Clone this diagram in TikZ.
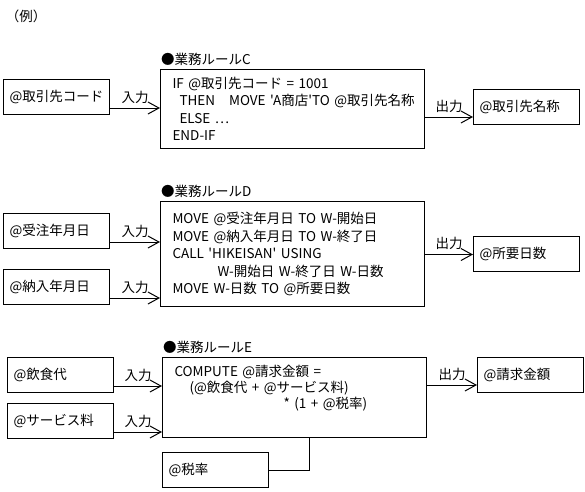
\documentclass[tikz,border=0pt]{standalone}
\usepackage{fontspec}
\setmainfont{Noto Sans CJK JP}[Ligatures=TeXOff]
\usetikzlibrary{arrows.meta, positioning}
\colorlet{colLinea}{black}
\colorlet{colTexto}{black}
\tikzset{
  cajaBase/.style={
    draw=colLinea, line width=1pt, anchor=north west,
    text=colTexto, font=\fontsize{13.5}{17.5}\selectfont
  },
  cajaDato/.style={cajaBase, minimum width=106pt, minimum height=35pt,
    text width=94pt, inner xsep=6pt, align=left},
  cajaRegla/.style={cajaBase, text width=240pt, inner xsep=12pt, align=left},
  flechaDato/.style={-{Straight Barb[length=11pt, width=12pt]}, line width=1pt, colLinea},
  lineaDato/.style={line width=1pt, colLinea},
  etiquetaFlecha/.style={midway, above, font=\fontsize{13.5}{16}\selectfont,
    text=colTexto, inner sep=4pt},
  tituloRegla/.style={font=\fontsize{13.5}{16}\selectfont, text=colTexto, inner sep=1pt},
}

\begin{document}
\begin{tikzpicture}[x=1pt, y=-1pt]
    \useasboundingbox (0,0) rectangle (585,491);
    \node[font=\fontsize{13.5}{16}\selectfont] (ejemplo) at (26,16) {（例）};

    % cajas de datos (entradas y salidas)
    \foreach \nombre/\x/\y/\txt in {
        entC/3/79/{@取引先コード},
        salC/473/89/{@取引先名称},
        entD1/3/213/{@受注年月日},
        entD2/3/269/{@納入年月日},
        salD/473/236/{@所要日数},
        entE1/7/357/{@飲食代},
        entE2/7/403/{@サービス料},
        salE/477/357/{@請求金額},
        entTasa/162/452/{@税率}
      }{
        \node[cajaDato] (\nombre) at (\x,\y) {\txt};
      }

    % reglas
    \node[cajaRegla, minimum height=79pt] (reglaC) at (160,69) {%
      IF @取引先コード = 1001\\
      \hspace*{7pt}\mbox{THEN\hspace{14pt}MOVE 'A商店'TO @取引先名称}\\
      \hspace*{7pt}ELSE …\\
      END-IF};
    \node[cajaRegla, minimum height=105pt] (reglaD) at (160,201) {%
      MOVE @受注年月日 TO W-開始日\\
      MOVE @納入年月日 TO W-終了日\\
      CALL 'HIKEISAN' USING\\
      \hspace*{45pt}W-開始日 W-終了日 W-日数\\
      MOVE W-日数 TO @所要日数};
    \node[cajaRegla, minimum height=80pt,
          font=\fontsize{13.5}{16}\selectfont] (reglaE) at (162,357) {%
      COMPUTE @請求金額 =\\
      \hspace*{15pt}(@飲食代 + @サービス料)\\
      \hspace*{109pt}* (1 + @税率)\\
      \strut};

    \foreach \r in {C,D,E}
      \node[tituloRegla, above right=2pt and 0pt of regla\r.north west] (tit\r) {●業務ルール\r};

    % flechas
    \foreach \desde/\hacia in {entC/reglaC, entD1/reglaD, entD2/reglaD,
                               entE1/reglaE, entE2/reglaE}
      \draw[flechaDato] ([yshift=7pt]\desde.south east)
        -- ([yshift=7pt]\desde.south east -| \hacia.west) node[etiquetaFlecha] {入力};

    \foreach \desde/\hacia/\dy in {reglaC/salC/8, reglaD/salD/17.5, reglaE/salE/8}
      \draw[flechaDato] ([yshift=\dy pt]\hacia.south west -| \desde.east)
        -- ([yshift=\dy pt]\hacia.south west) node[etiquetaFlecha] {出力};

    \draw[lineaDato] (entTasa.east) -| ([xshift=15pt]reglaE.south);
\end{tikzpicture}
\end{document}
